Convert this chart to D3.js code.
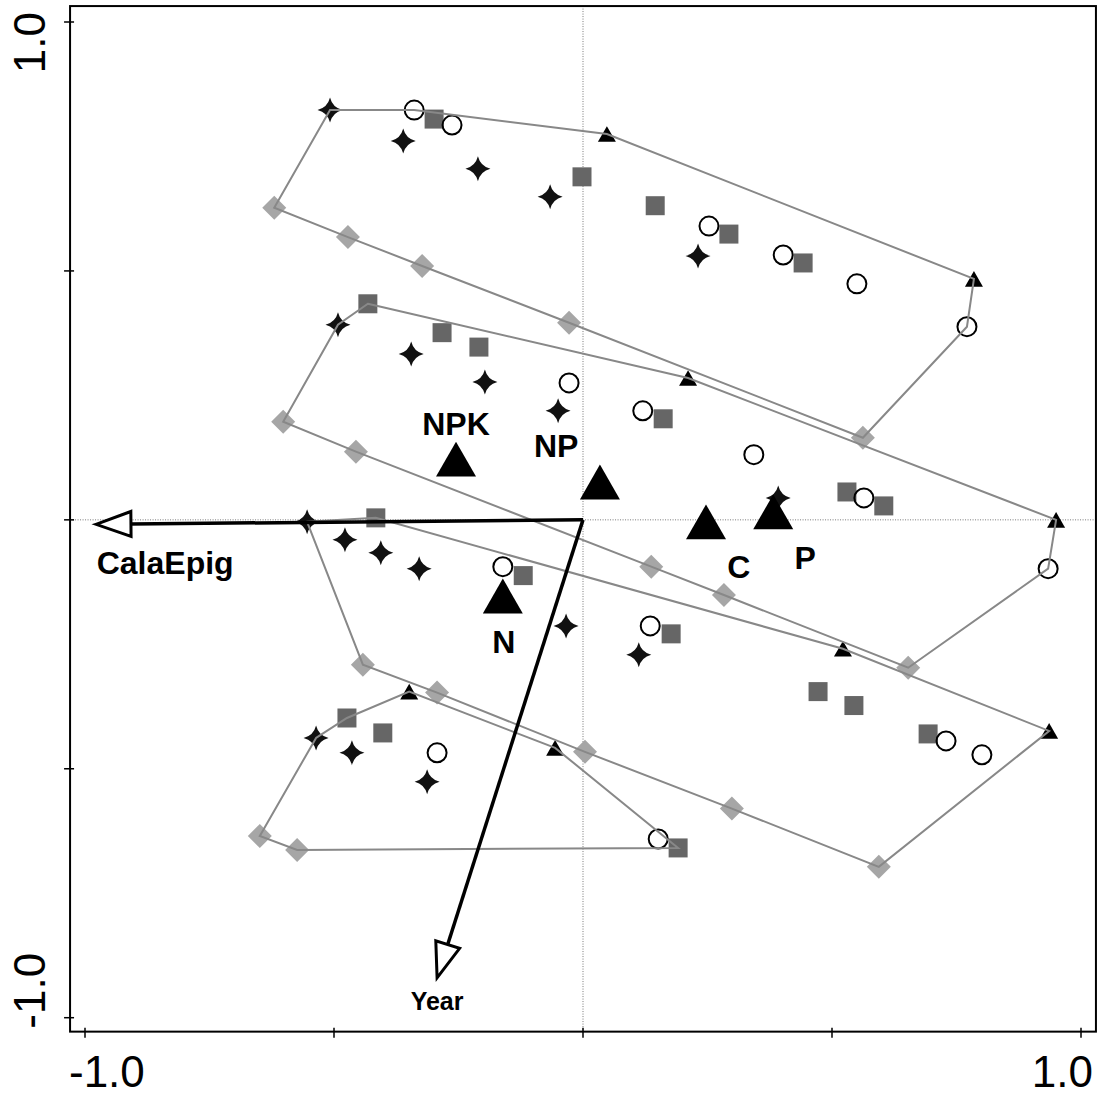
<!DOCTYPE html>
<html><head><meta charset="utf-8">
<script src="https://cdn.jsdelivr.net/npm/d3@7"></script>
<style>html,body{margin:0;padding:0;background:#fff;} svg{display:block;font-family:"Liberation Sans",Arial,Helvetica,sans-serif;}</style>
</head><body><svg id="chart" width="1106" height="1095"></svg>
<script>
// ---------- data (ordination scores) ----------
const starPts = [[-0.508,0.823],[-0.361,0.761],[-0.211,0.705],[-0.066,0.649],[0.231,0.530],
  [-0.492,0.392],[-0.345,0.333],[-0.197,0.277],[-0.050,0.219],[0.392,0.044],
  [-0.554,-0.004],[-0.478,-0.040],[-0.406,-0.066],[-0.329,-0.098],[-0.034,-0.213],[0.112,-0.271],
  [-0.536,-0.438],[-0.464,-0.468],[-0.313,-0.526]];
const circlePts = [[-0.339,0.823],[-0.263,0.793],[0.253,0.590],[0.402,0.532],[0.550,0.474],[0.771,0.388],
  [-0.028,0.275],[0.120,0.219],[0.343,0.131],[0.564,0.044],[0.934,-0.098],
  [-0.161,-0.094],[0.135,-0.213],[0.729,-0.444],[0.801,-0.472],
  [-0.293,-0.468],[0.151,-0.641]];
const squarePts = [[-0.299,0.805],[-0.002,0.689],[0.145,0.631],[0.293,0.574],[0.442,0.516],
  [-0.432,0.434],[-0.283,0.376],[-0.209,0.347],[0.161,0.203],[0.530,0.056],[0.604,0.028],
  [-0.416,0.004],[-0.120,-0.112],[0.177,-0.229],[0.472,-0.345],[0.544,-0.373],[0.693,-0.430],
  [-0.474,-0.398],[-0.402,-0.428],[0.191,-0.659]];
const diamondPts = [[-0.620,0.627],[-0.472,0.568],[-0.323,0.510],[-0.028,0.396],[0.562,0.165],
  [-0.602,0.197],[-0.456,0.137],[0.137,-0.094],[0.283,-0.151],[0.653,-0.297],
  [-0.442,-0.291],[-0.293,-0.347],[0.004,-0.466],[0.299,-0.580],[0.594,-0.697],
  [-0.649,-0.635],[-0.574,-0.663]];
const trianglePts = [[0.048,0.775],[0.785,0.484],[0.211,0.285],[0.950,0.000],
  [0.522,-0.259],[0.936,-0.424],[-0.349,-0.345],[-0.056,-0.458]];

// convex hulls (one per sampling year group)
const hull1 = [[-0.508,0.823],[-0.339,0.823],[0.048,0.775],[0.785,0.484],[0.771,0.388],[0.562,0.165],
  [-0.028,0.396],[-0.323,0.510],[-0.472,0.568],[-0.620,0.627]];
const hull2 = [[-0.432,0.434],[0.211,0.285],[0.950,0.000],[0.934,-0.098],[0.653,-0.297],[0.283,-0.151],
  [0.137,-0.094],[-0.456,0.137],[-0.602,0.197],[-0.492,0.392]];
const hull3 = [[-0.554,-0.004],[-0.416,0.004],[0.522,-0.259],[0.936,-0.424],[0.594,-0.697],[0.299,-0.580],
  [0.004,-0.466],[-0.293,-0.347],[-0.442,-0.291]];
const hull4 = [[-0.536,-0.438],[-0.474,-0.398],[-0.349,-0.345],[-0.056,-0.458],[0.191,-0.659],
  [-0.574,-0.663],[-0.649,-0.635]];

// treatment centroids
const treatNames = ["NPK","NP","C","P","N"];
const treatPts = [[-0.255,0.122],[0.034,0.076],[0.247,-0.004],[0.382,0.016],[-0.161,-0.153]];
const treatLabelPts = [[-0.255,0.193],[-0.054,0.149],[0.313,-0.094],[0.446,-0.076],[-0.159,-0.245]];

// environmental vectors
const envNames = ["CalaEpig","Year"];
const envVec = [[-0.978,-0.009],[-0.293,-0.920]];
const envLabelPts = [[-0.839,-0.086],[-0.293,-0.966]];

// axes
const tickVals = [-1,-0.5,0,0.5,1];
const tickLabels = ["-1.0","","","","1.0"];

// ---------- drawing ----------
const svg = d3.select("#chart");
const x = d3.scaleLinear().domain([-1,1]).range([85,1081]);
const y = d3.scaleLinear().domain([-1,1]).range([1017.7,22]);
const box = {x0:-1.030, x1:1.030, y0:-1.028, y1:1.032};

// reference lines
const ref = svg.append("g").attr("stroke","#777").attr("stroke-width",1).attr("stroke-dasharray","1,1.5");
ref.append("line").attr("x1",x(0)).attr("x2",x(0)).attr("y1",y(box.y1)).attr("y2",y(box.y0));
ref.append("line").attr("y1",y(0)).attr("y2",y(0)).attr("x1",x(box.x0)).attr("x2",x(box.x1));

// custom symbols
const star4 = {draw(ctx,size){const r=Math.sqrt(size),k=r*0.2;
  ctx.moveTo(0,-r);ctx.quadraticCurveTo(k,-k,r,0);ctx.quadraticCurveTo(k,k,0,r);
  ctx.quadraticCurveTo(-k,k,-r,0);ctx.quadraticCurveTo(-k,-k,0,-r);ctx.closePath();}};
const squareSym = {draw(ctx,size){const s=Math.sqrt(size)/2;ctx.rect(-s,-s,2*s,2*s);}};
const diamondSym = {draw(ctx,size){const s=Math.sqrt(size);ctx.moveTo(0,-s);ctx.lineTo(s,0);ctx.lineTo(0,s);ctx.lineTo(-s,0);ctx.closePath();}};
const triSym = {draw(ctx,size){const w=Math.sqrt(size),h=w*0.87;ctx.moveTo(0,-h/2);ctx.lineTo(w/2,h/2);ctx.lineTo(-w/2,h/2);ctx.closePath();}};

function drawPts(data, type, size, fill, stroke, sw){
  svg.append("g").selectAll("path").data(data).join("path")
    .attr("transform",d=>`translate(${x(d[0])},${y(d[1])})`)
    .attr("d",d3.symbol().type(type).size(size)())
    .attr("fill",fill).attr("stroke",stroke).attr("stroke-width",sw);
}
drawPts(diamondPts, diamondSym, 12*12, "#a6a6a6", "none", 0);
drawPts(squarePts, squareSym, 19*19, "#666666", "none", 0);
drawPts(starPts, star4, 12.5*12.5, "#111111", "none", 0);
drawPts(circlePts, d3.symbolCircle, Math.PI*9.5*9.5, "none", "#000", 2);
drawPts(trianglePts, triSym, 18*18, "#000", "none", 0);

// hulls
const line = d3.line().x(d=>x(d[0])).y(d=>y(d[1])).curve(d3.curveLinearClosed);
svg.append("g").selectAll("path").data([hull1,hull2,hull3,hull4]).join("path")
  .attr("d",line).attr("fill","none").attr("stroke","#888").attr("stroke-width",2);

// centroids
drawPts(treatPts, triSym, 40*40, "#000", "none", 0);
svg.append("g").selectAll("text").data(treatNames).join("text")
  .attr("x",(d,i)=>x(treatLabelPts[i][0])).attr("y",(d,i)=>y(treatLabelPts[i][1]))
  .attr("text-anchor","middle").attr("dominant-baseline","central")
  .attr("font-weight","bold").attr("font-size",32).text(d=>d);

// env arrows
const ag = svg.append("g");
envVec.forEach((v,i)=>{
  const x0=x(0),y0=y(0),x1=x(v[0]),y1=y(v[1]);
  const len=Math.hypot(x1-x0,y1-y0),ux=(x1-x0)/len,uy=(y1-y0)/len;
  const hl=35,hw=12.5;
  const bx=x1-ux*hl,by=y1-uy*hl;
  ag.append("line").attr("x1",x0).attr("y1",y0).attr("x2",bx).attr("y2",by)
    .attr("stroke","#000").attr("stroke-width",3.5);
  ag.append("path").attr("d",`M${x1},${y1}L${bx-uy*hw},${by+ux*hw}L${bx+uy*hw},${by-ux*hw}Z`)
    .attr("fill","#fff").attr("stroke","#000").attr("stroke-width",3).attr("stroke-linejoin","miter");
  ag.append("text").attr("x",x(envLabelPts[i][0])).attr("y",y(envLabelPts[i][1]))
    .attr("text-anchor","middle").attr("dominant-baseline","central")
    .attr("font-weight","bold").attr("font-size",i===0?32:25).text(envNames[i]);
});

// box
svg.append("rect").attr("x",x(box.x0)).attr("y",y(box.y1))
  .attr("width",x(box.x1)-x(box.x0)).attr("height",y(box.y0)-y(box.y1))
  .attr("fill","none").attr("stroke","#000").attr("stroke-width",2);

// axes ticks
const xb=y(box.y0), yl=x(box.x0);
const tg = svg.append("g").attr("stroke","#000").attr("stroke-width",1.5);
tickVals.forEach(t=>{
  tg.append("line").attr("x1",x(t)).attr("x2",x(t)).attr("y1",xb-4).attr("y2",xb+6);
  tg.append("line").attr("y1",y(t)).attr("y2",y(t)).attr("x1",yl-6).attr("x2",yl+4);
});
tickLabels.forEach((lab,i)=>{
  if(!lab) return;
  const t=tickVals[i], first=i===0;
  svg.append("text").attr("x",x(t)+(first?-16:12)).attr("y",1087)
    .attr("text-anchor",first?"start":"end").attr("font-size",44).text(lab);
  svg.append("text").attr("transform",`translate(45,${y(t)+(first?11:-10)}) rotate(-90)`)
    .attr("text-anchor",first?"start":"end").attr("font-size",44).text(lab);
});
</script></body></html>
